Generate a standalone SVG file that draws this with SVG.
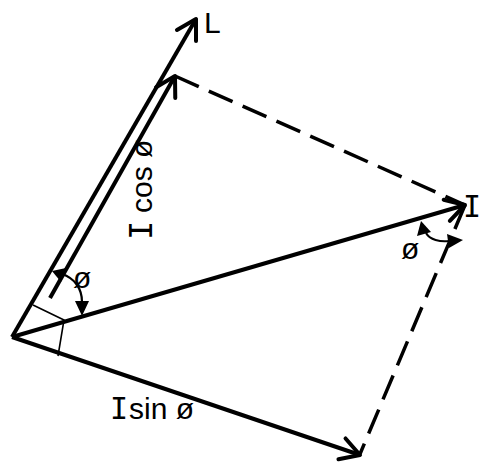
<svg xmlns="http://www.w3.org/2000/svg" width="480" height="462" viewBox="0 0 480 462">
<style>
.vec{fill:none;stroke:#000;stroke-width:4;stroke-linecap:butt}
.dash{fill:none;stroke:#000;stroke-width:3.5;stroke-dasharray:26 11}
.thin{fill:none;stroke:#000;stroke-width:1.6}
.arc{fill:none;stroke:#000;stroke-width:2.2}
.tri{fill:#000}
.lbl{font-family:"Liberation Sans",Arial,sans-serif;font-size:30px;fill:#000}
.mono{font-family:"DejaVu Sans Mono","Liberation Mono",monospace}
</style>
<defs>
<marker id="open" markerUnits="userSpaceOnUse" viewBox="-24 -14 28 28" refX="0" refY="0" markerWidth="28" markerHeight="28" orient="auto" overflow="visible">
<path d="M-19,-11 L0,0 L-19,11" fill="none" stroke="#000" stroke-width="4" stroke-linejoin="round" stroke-linecap="round"/>
</marker>
</defs>
<rect width="480" height="462" fill="#fff"/>
<g id="connectors">
<path class="dash" d="M175,76 L465,205"/>
<path class="dash" d="M465,205 L360,454"/>
</g>
<g id="axis-L">
<path class="vec" d="M12,337 L196,19" marker-end="url(#open)"/>
<text class="lbl" x="204" y="33" font-size="36">L</text>
</g>
<g id="vector-Icos">
<path class="vec" d="M50,298 L175,76" marker-end="url(#open)"/>
<g transform="translate(152,238) rotate(-90)">
<text class="lbl" x="0" y="0"><tspan class="mono" x="-2" font-size="32">I</tspan><tspan x="25">cos ø</tspan></text>
</g>
</g>
<g id="vector-I">
<path class="vec" d="M12,337 L465,205" marker-end="url(#open)"/>
<text class="lbl mono" x="463" y="217" font-size="34">I</text>
</g>
<g id="vector-Isin">
<path class="vec" d="M12,337 L360,455" marker-end="url(#open)"/>
<text class="lbl" y="419"><tspan class="mono" x="110" font-size="30">I</tspan><tspan x="129">sin ø</tspan></text>
</g>
<g id="right-angle">
<path class="thin" d="M33,305 L64,320 L58,356"/>
</g>
<g id="angle-left">
<path class="arc" d="M62,274 C74,278 82,288 82,302"/>
<polygon class="tri" points="52,271 66,268 61,282"/>
<polygon class="tri" points="75,301 89,301 82,316"/>
<text class="lbl" x="73" y="288" font-size="27">ø</text>
</g>
<g id="angle-right">
<path class="arc" d="M426,233 C430,240 440,242 449,241"/>
<polygon class="tri" points="421,221 417,236 431,232"/>
<polygon class="tri" points="447,234 463,240 449,248"/>
<text class="lbl" x="401" y="259" font-size="27">ø</text>
</g>
</svg>
